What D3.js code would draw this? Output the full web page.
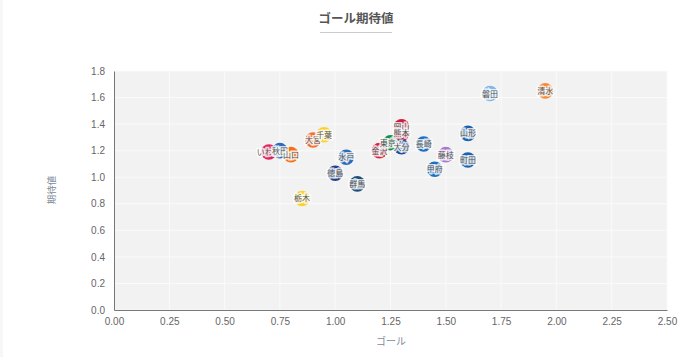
<!DOCTYPE html>
<html>
<head>
<meta charset="utf-8">
<script src="https://cdn.jsdelivr.net/npm/d3@7"></script>
<style>
  body { margin: 0; background: #fff; }
  text { font-family: "Liberation Sans", "Noto Sans CJK JP", sans-serif; }
</style>
</head>
<body>
<div class="chart-container"></div>
<script>
// values
const teams = ["いわき","秋田","山口","大宮","千葉","栃木","徳島","水戸","群馬","金沢","東京V","岡山","熊本","大分","長崎","甲府","藤枝","町田","山形","磐田","清水"];
const goals = [0.70,0.75,0.80,0.90,0.95,0.85,1.00,1.05,1.10,1.20,1.25,1.30,1.30,1.30,1.40,1.45,1.50,1.60,1.60,1.70,1.95];
const expected = [1.19,1.20,1.17,1.28,1.32,0.84,1.03,1.15,0.95,1.20,1.26,1.38,1.33,1.23,1.25,1.06,1.17,1.13,1.33,1.63,1.65];
const teamColors = ["#e0245e","#2a6ebb","#f2711c","#f4702e","#fbd22c","#fbd22c","#24408e","#2a6ebb","#1f4e79","#d9263f","#1e8a4c","#c8203c","#d4213d","#1c4f9c","#1f6fc4","#1c6fc0","#a77bca","#1c62b0","#1c62b0","#7fb8ea","#f58a3c"];
const xTicks = [0,0.25,0.5,0.75,1,1.25,1.5,1.75,2,2.25,2.5];
const yTicks = [0,0.2,0.4,0.6,0.8,1,1.2,1.4,1.6,1.8];

const width = 700;
const height = 357;
const marginTop = 71;
const marginRight = 33;
const marginBottom = 47;
const marginLeft = 114;

const x = d3.scaleLinear().domain([0, 2.5]).range([marginLeft, width - marginRight]);
const y = d3.scaleLinear().domain([0, 1.8]).range([height - marginBottom, marginTop]);

const svg = d3.select('.chart-container').append("svg")
    .attr("width", width)
    .attr("height", height)
    .style("display", "block");

// faint strip on the left edge
svg.append("rect").attr("width", 3).attr("height", height).attr("fill", "#f7f7f7");

// Title and its rule
svg.append("text")
    .attr("x", 356).attr("y", 23)
    .attr("text-anchor", "middle")
    .attr("font-size", 12.5)
    .attr("font-weight", "bold")
    .attr("fill", "#555")
    .text("ゴール期待値");
svg.append("line")
    .attr("x1", 320).attr("x2", 392)
    .attr("y1", 32.5).attr("y2", 32.5)
    .attr("stroke", "#ccc");

// Plot background
svg.append("rect")
    .attr("x", x(0)).attr("y", y(1.8))
    .attr("width", x(2.5) - x(0))
    .attr("height", y(0) - y(1.8))
    .attr("fill", "#f2f2f2");

// Grid
svg.append("g").selectAll("line").data(xTicks).join("line")
    .attr("x1", d => x(d)).attr("x2", d => x(d))
    .attr("y1", y(0)).attr("y2", y(1.8))
    .attr("stroke", "#fafafa");
svg.append("g").selectAll("line").data(yTicks).join("line")
    .attr("x1", x(0)).attr("x2", x(2.5))
    .attr("y1", d => y(d)).attr("y2", d => y(d))
    .attr("stroke", "#fafafa");

// Axes
const xAxis = svg.append("g")
    .attr("transform", `translate(0,${height - marginBottom})`)
    .call(d3.axisBottom(x).tickValues(xTicks).tickFormat(d3.format(".2f")).tickSize(0).tickPadding(8));
const yAxis = svg.append("g")
    .attr("transform", `translate(${marginLeft},0)`)
    .call(d3.axisLeft(y).tickValues(yTicks).tickFormat(d3.format(".1f")).tickSize(0).tickPadding(9));
[xAxis, yAxis].forEach(a => {
    a.selectAll("path").attr("stroke", "#777");
    a.selectAll("text").attr("fill", "#666").attr("font-size", 10);
});

// Axis titles
svg.append("text")
    .attr("x", 391).attr("y", 345)
    .attr("text-anchor", "middle")
    .attr("font-size", 10)
    .attr("fill", "#7f8c99")
    .text("ゴール");
svg.append("text")
    .attr("transform", "translate(55,190) rotate(-90)")
    .attr("text-anchor", "middle")
    .attr("font-size", 9.5)
    .attr("fill", "#7f8c99")
    .text("期待値");

// Points
svg.append("g").selectAll("circle").data(teams).join("circle")
    .attr("cx", (d, i) => x(goals[i]))
    .attr("cy", (d, i) => y(expected[i]))
    .attr("r", 7.8)
    .attr("fill", (d, i) => teamColors[i]);

// Labels with a white outline
svg.append("g").selectAll("text").data(teams).join("text")
    .attr("x", (d, i) => x(goals[i]))
    .attr("y", (d, i) => y(expected[i]) + 3)
    .attr("text-anchor", "middle")
    .attr("font-size", 8)
    .attr("fill", "#555")
    .attr("stroke", "#fff")
    .attr("stroke-width", 3)
    .attr("stroke-opacity", 0.8)
    .attr("paint-order", "stroke")
    .text(d => d);
</script>
</body>
</html>
